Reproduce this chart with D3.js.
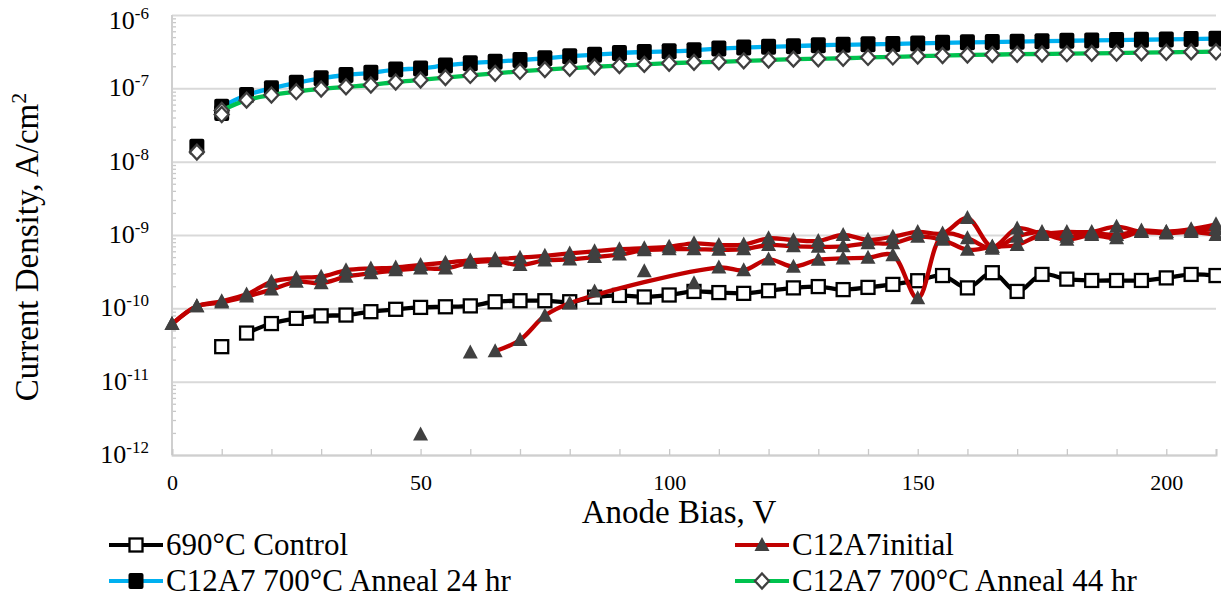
<!DOCTYPE html>
<html>
<head>
<meta charset="utf-8">
<script src="https://cdn.jsdelivr.net/npm/d3@7"></script>
<style>
  body { margin: 0; background: #fff; }
  svg text { font-family: "Liberation Serif", "Tinos", "Times New Roman", "Nimbus Roman", "Nimbus Roman No9 L", "FreeSerif", "Noto Serif", "DejaVu Serif", serif; fill: #000; }
</style>
</head>
<body>
<div id="chart"></div>
<script>
// anode bias steps, V
var biasV = [0, 5, 10, 15, 20, 25, 30, 35, 40, 45, 50, 55, 60, 65, 70, 75, 80, 85, 90, 95, 100,
             105, 110, 115, 120, 125, 130, 135, 140, 145, 150, 155, 160, 165, 170, 175, 180, 185,
             190, 195, 200, 205, 210];

// current density, A/cm2 (null = no point on that step)
var control690 = [null, null, null, 4.6e-11, 6.2e-11, 7.3e-11, 7.9e-11, 8.1e-11, 9.0e-11, 9.7e-11,
                  1.03e-10, 1.05e-10, 1.08e-10, 1.23e-10, 1.27e-10, 1.27e-10, 1.23e-10, 1.42e-10, 1.5e-10, 1.43e-10,
                  1.52e-10, 1.7e-10, 1.64e-10, 1.6e-10, 1.74e-10, 1.9e-10, 1.98e-10, 1.8e-10, 1.93e-10, 2.12e-10,
                  2.38e-10, 2.8e-10, 1.9e-10, 3.06e-10, 1.7e-10, 2.9e-10, 2.5e-10, 2.4e-10, 2.4e-10, 2.4e-10,
                  2.6e-10, 2.9e-10, 2.8e-10];
var controlLoose = [[10, 3.0e-11]];

var initialSweepA = [6.1e-11, 1.07e-10, 1.25e-10, 1.55e-10, 2.3e-10, 2.6e-10, 2.7e-10, 3.3e-10, 3.5e-10, 3.6e-10,
                     3.9e-10, 4.2e-10, 4.5e-10, 4.7e-10, 4.9e-10, 5.2e-10, 5.6e-10, 6.0e-10, 6.4e-10, 6.6e-10,
                     6.9e-10, 7.7e-10, 7.3e-10, 7.4e-10, 9.0e-10, 8.5e-10, 8.3e-10, 1.0e-9, 8.6e-10, 9.5e-10,
                     1.1e-9, 1.05e-9, 1.7e-9, 6.9e-10, 1.23e-9, 1.05e-9, 1.1e-9, 1.1e-9, 1.3e-9, 1.1e-9,
                     1.1e-9, 1.2e-9, 1.4e-9];
var initialSweepB = [6.1e-11, 1.07e-10, 1.2e-10, 1.45e-10, 1.8e-10, 2.3e-10, 2.2e-10, 2.7e-10, 3.0e-10, 3.3e-10,
                     3.5e-10, 3.5e-10, 4.2e-10, 4.4e-10, 3.9e-10, 4.5e-10, 4.65e-10, 5.0e-10, 5.4e-10, 6.2e-10,
                     6.4e-10, 6.4e-10, 6.3e-10, 6.4e-10, 7.3e-10, 7.0e-10, 6.9e-10, 7.0e-10, 7.7e-10, 7.7e-10,
                     9.5e-10, 8.6e-10, 6.3e-10, 6.9e-10, 7.3e-10, 1.0e-9, 8.6e-10, 1.0e-9, 9.0e-10, 1.1e-9,
                     1.05e-9, 1.1e-9, 1.0e-9];
var initialSweepC = [null, null, null, null, null, null, null, null, null, null,
                     null, null, null, 2.6e-11, 3.7e-11, 7.9e-11, 1.17e-10, null, null, null,
                     null, null, 3.6e-10, 3.3e-10, 4.65e-10, 3.7e-10, 4.6e-10, 4.8e-10, 4.9e-10, 5.3e-10,
                     1.37e-10, 1.0e-9, 9.0e-10, 6.5e-10, 9.5e-10, 1.1e-9, 9.5e-10, 1.05e-9, 1.0e-9, 1.15e-9,
                     1.1e-9, 1.15e-9, 1.2e-9];
var initialLoose = [[50, 1.9e-12], [60, 2.5e-11], [85, 1.7e-10], [95, 3.2e-10], [105, 2.2e-10]];

var anneal24 = [null, null, 5.6e-8, 8.1e-8, 1.0e-7, 1.19e-7, 1.37e-7, 1.52e-7, 1.63e-7, 1.8e-7,
                1.87e-7, 2.05e-7, 2.2e-7, 2.31e-7, 2.43e-7, 2.57e-7, 2.74e-7, 2.88e-7, 3.03e-7, 3.13e-7,
                3.2e-7, 3.3e-7, 3.48e-7, 3.6e-7, 3.68e-7, 3.76e-7, 3.87e-7, 3.92e-7, 3.98e-7, 4.02e-7,
                4.1e-7, 4.18e-7, 4.24e-7, 4.28e-7, 4.33e-7, 4.4e-7, 4.45e-7, 4.5e-7, 4.55e-7, 4.6e-7,
                4.65e-7, 4.7e-7, 4.75e-7];
var anneal24Loose = [[5, 1.6e-8], [10, 4.6e-8]];

var anneal44 = [null, null, 5.0e-8, 6.9e-8, 8.1e-8, 9.0e-8, 9.8e-8, 1.05e-7, 1.11e-7, 1.22e-7,
                1.3e-7, 1.4e-7, 1.5e-7, 1.6e-7, 1.7e-7, 1.8e-7, 1.88e-7, 1.97e-7, 2.04e-7, 2.12e-7,
                2.2e-7, 2.26e-7, 2.3e-7, 2.37e-7, 2.43e-7, 2.5e-7, 2.53e-7, 2.57e-7, 2.64e-7, 2.68e-7,
                2.75e-7, 2.8e-7, 2.85e-7, 2.88e-7, 2.92e-7, 2.94e-7, 2.97e-7, 3.0e-7, 3.03e-7, 3.06e-7,
                3.1e-7, 3.14e-7, 3.16e-7];
var anneal44Loose = [[5, 1.35e-8], [10, 4.4e-8]];

// axis ticks
var xTicks = [0, 50, 100, 150, 200];
var yDecades = [1e-12, 1e-11, 1e-10, 1e-9, 1e-8, 1e-7, 1e-6];
var yExponents = ["-12", "-11", "-10", "-9", "-8", "-7", "-6"];

var seriesNames = ["690°C Control", "C12A7initial", "C12A7 700°C Anneal 24 hr", "C12A7 700°C Anneal 44 hr"];

var FONT = '"Liberation Serif", "Tinos", "Times New Roman", "Nimbus Roman", "FreeSerif", "Noto Serif", "DejaVu Serif", serif';

var W = 1221, H = 597;
var plot = {left: 172, right: 1216, top: 15, bottom: 455};

var svg = d3.select("#chart")
    .append("svg")
        .attr("width", W)
        .attr("height", H)
        .attr("font-family", FONT);

var x = d3.scaleLinear()
    .domain([0, 210])
    .range([plot.left, plot.right]);

var y = d3.scaleLog()
    .domain([1e-12, 1e-6])
    .range([plot.bottom, plot.top]);


// gridlines on each decade
var grid = svg.append("g")
    .attr("transform", "translate(" + plot.left + ",0)")
    .call(d3.axisLeft(y)
        .tickValues(yDecades)
        .tickSize(-(plot.right - plot.left))
        .tickFormat(""));
grid.select(".domain").remove();
grid.selectAll(".tick line")
    .attr("stroke", "#d9d9d9")
    .attr("stroke-width", 2);

// minor log ticks on the y axis
var minors = [];
yDecades.slice(0, -1).forEach(function(d) {
    [2, 3, 4, 5, 6, 7, 8, 9].forEach(function(m) { minors.push(d * m); });
});
var yMinor = svg.append("g")
    .attr("transform", "translate(" + (plot.left - 1) + ",0)")
    .call(d3.axisRight(y).tickValues(minors).tickSize(5).tickFormat(""));
yMinor.select(".domain").remove();
yMinor.selectAll(".tick line").attr("stroke", "#c8c8c8").attr("stroke-width", 1.3);

// y axis line
svg.append("line")
    .attr("x1", plot.left).attr("x2", plot.left)
    .attr("y1", plot.top).attr("y2", plot.bottom)
    .attr("stroke", "#cfcfcf")
    .attr("stroke-width", 2);

// y tick labels 10^n
var ylab = svg.append("g").selectAll("text")
    .data(yDecades)
    .enter()
    .append("text")
        .attr("x", 149)
        .attr("y", (d, i) => Math.max(y(d), 21) + 8)
        .attr("text-anchor", "end")
        .attr("font-family", FONT)
        .attr("font-size", 26)
        .text("10");
ylab.append("tspan")
    .attr("dy", -10)
    .attr("font-size", 17)
    .text((d, i) => yExponents[i]);

// x axis: line, minor ticks every 10 inward, labels
var xAxis = svg.append("g")
    .attr("transform", "translate(0," + plot.bottom + ")")
    .call(d3.axisTop(x).tickValues(d3.range(0, 211, 10)).tickSize(6).tickFormat(""));
xAxis.select(".domain")
    .attr("stroke", "#cfcfcf")
    .attr("stroke-width", 2);
xAxis.selectAll(".tick line").attr("stroke", "#c8c8c8").attr("stroke-width", 1.3);

var xLab = svg.append("g")
    .attr("transform", "translate(0," + plot.bottom + ")")
    .call(d3.axisBottom(x).tickValues(xTicks).tickSize(0).tickPadding(0));
xLab.attr("font-family", FONT);
xLab.select(".domain").remove();
xLab.selectAll("text")
    .attr("dy", null)
    .attr("y", 35)
    .attr("font-size", 22)
    .attr("fill", "#000");

// axis titles
svg.append("text")
    .attr("x", 679)
    .attr("y", 523)
    .attr("text-anchor", "middle")
    .attr("font-size", 33)
    .text("Anode Bias, V");

var yt = svg.append("text")
    .attr("transform", "translate(38,247) rotate(-90)")
    .attr("text-anchor", "middle")
    .attr("font-size", 33)
    .text("Current Density, A/cm");
yt.append("tspan")
    .attr("dy", -12)
    .attr("font-size", 22)
    .text("2");


// marker shapes
function drawMarker(g, kind, cx, cy) {
    if (kind == "openSquare") {
        g.append("rect")
            .attr("x", cx - 6.5).attr("y", cy - 6.5)
            .attr("width", 13).attr("height", 13)
            .attr("fill", "#fff").attr("stroke", "#000").attr("stroke-width", 2.3);
    } else if (kind == "triangle") {
        g.append("path")
            .attr("d", "M" + cx + "," + (cy - 8) + "L" + (cx + 7.5) + "," + (cy + 6) + "L" + (cx - 7.5) + "," + (cy + 6) + "Z")
            .attr("fill", "#404040");
    } else if (kind == "filledSquare") {
        g.append("rect")
            .attr("x", cx - 7.5).attr("y", cy - 8)
            .attr("width", 15).attr("height", 16)
            .attr("rx", 2)
            .attr("fill", "#000");
    } else if (kind == "diamond") {
        g.append("path")
            .attr("d", "M" + cx + "," + (cy - 7.5) + "L" + (cx + 7) + "," + cy + "L" + cx + "," + (cy + 7.5) + "L" + (cx - 7) + "," + cy + "Z")
            .attr("fill", "#fff").attr("stroke", "#404040").attr("stroke-width", 2.3);
    }
}

var series = [
    {name: seriesNames[0], sweeps: [control690], loose: controlLoose, color: "#000000", mark: "openSquare"},
    {name: seriesNames[1], sweeps: [initialSweepA, initialSweepB, initialSweepC], loose: initialLoose, color: "#c00000", mark: "triangle"},
    {name: seriesNames[2], sweeps: [anneal24], loose: anneal24Loose, color: "#00b0f0", mark: "filledSquare"},
    {name: seriesNames[3], sweeps: [anneal44], loose: anneal44Loose, color: "#00c24e", mark: "diamond"}
];

var line = d3.line()
    .x(d => x(d[0]))
    .y(d => y(d[1]))
    .curve(d3.curveCatmullRom.alpha(0.5));

series.forEach(function(s) {
    var g = svg.append("g");
    var pts = [];
    s.sweeps.forEach(function(vals) {
        var sw = biasV.map((v, i) => [v, vals[i]]).filter(d => d[1] != null);
        g.append("path")
            .attr("d", line(sw))
            .attr("fill", "none")
            .attr("stroke", s.color)
            .attr("stroke-width", 4.3)
            .attr("stroke-linejoin", "round");
        pts = pts.concat(sw);
    });
    pts = pts.concat(s.loose);
    pts.forEach(d => drawMarker(g, s.mark, x(d[0]), y(d[1])));
});


// legend, two columns
var legendPos = [[109, 545], [735, 545], [109, 581], [735, 581]];
series.forEach(function(s, i) {
    var lx = legendPos[i][0], ly = legendPos[i][1];
    var g = svg.append("g");
    g.append("line")
        .attr("x1", lx).attr("x2", lx + 54)
        .attr("y1", ly).attr("y2", ly)
        .attr("stroke", s.color)
        .attr("stroke-width", 4);
    drawMarker(g, s.mark, lx + 27, ly);
    g.append("text")
        .attr("x", lx + 57)
        .attr("y", ly + 10)
        .attr("font-size", 31)
        .text(s.name);
});
</script>
</body>
</html>
